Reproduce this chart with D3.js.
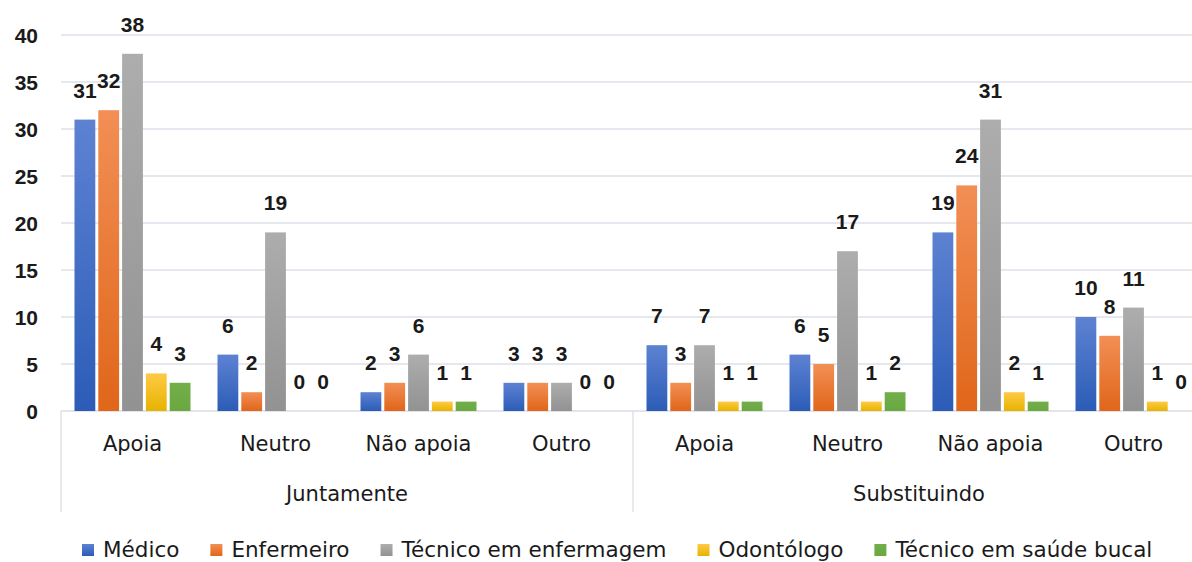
<!DOCTYPE html>
<html>
<head>
<meta charset="utf-8">
<script src="https://cdn.jsdelivr.net/npm/d3@7"></script>
<style>
  body { margin: 0; background: #fff; }
  svg { display: block; }
  .num { font-family: "Liberation Sans", Arial, sans-serif; font-weight: bold; fill: #1a1a1a; }
  .txt { font-family: "DejaVu Sans", sans-serif; fill: #1a1a1a; }
</style>
</head>
<body>
<div id="vis"></div>
<script>
// chart data
let groups = ['Juntamente', 'Substituindo'];
let answers = ['Apoia', 'Neutro', 'Não apoia', 'Outro'];
let seriesNames = ['Médico', 'Enfermeiro', 'Técnico em enfermagem', 'Odontólogo', 'Técnico em saúde bucal'];
let medico      = [31, 6, 2, 3, 7, 6, 19, 10];
let enfermeiro  = [32, 2, 3, 3, 3, 5, 24, 8];
let tecEnf      = [38, 19, 6, 3, 7, 17, 31, 11];
let odontologo  = [4, 0, 1, 0, 1, 1, 2, 1];
let tecBucal    = [3, 0, 1, 0, 1, 2, 1, 0];
let yTicks = [0, 5, 10, 15, 20, 25, 30, 35, 40];

let allSeries = [medico, enfermeiro, tecEnf, odontologo, tecBucal];
let colorsTop = ['#5d82d2', '#f28f55', '#adadad', '#ffca45', '#72ae4a'];
let colorsBot = ['#2c5cb7', '#e0661a', '#929292', '#e6b300', '#6aa841'];

let W = 1192, H = 562;
let margin = { left: 61, top: 35, baseline: 411 };
let catW = 143;

let svg = d3.select('#vis').append('svg').attr('width', W).attr('height', H);

// gradients
let defs = svg.append('defs');
seriesNames.forEach((s, i) => {
    let g = defs.append('linearGradient').attr('id', 'grad' + i)
        .attr('x1', 0).attr('y1', 0).attr('x2', 0).attr('y2', 1);
    g.append('stop').attr('offset', '0%').attr('stop-color', colorsTop[i]);
    g.append('stop').attr('offset', '100%').attr('stop-color', colorsBot[i]);
});

// categories as index list (group x answer)
let cats = [];
groups.forEach((g, gi) => answers.forEach((a, ai) => cats.push({ g: g, a: a, idx: gi * answers.length + ai })));

let xScale = d3.scaleBand()
    .domain(cats.map(c => c.idx))
    .range([margin.left, margin.left + catW * cats.length]);

let xInner = d3.scaleBand()
    .domain(d3.range(seriesNames.length))
    .range([12, catW - 12]);

let yScale = d3.scaleLinear()
    .domain([0, 40])
    .range([margin.baseline, margin.top]);

// gridlines
svg.append('g').selectAll('line').data(yTicks.filter(t => t > 0)).join('line')
    .attr('x1', margin.left).attr('x2', W)
    .attr('y1', d => yScale(d)).attr('y2', d => yScale(d))
    .attr('stroke', '#dde1e8').attr('stroke-width', 1.3);

// y axis labels
let yAxis = d3.axisLeft(yScale).tickValues(yTicks).tickSize(0).tickPadding(0);
let yG = svg.append('g').attr('transform', `translate(38,0)`).call(yAxis);
yG.select('.domain').remove();
yG.selectAll('text').attr('class', 'num').attr('font-size', 21).attr('dy', '0.36em');

// category axis lines
svg.append('line')
    .attr('x1', margin.left).attr('x2', W)
    .attr('y1', margin.baseline).attr('y2', margin.baseline)
    .attr('stroke', '#d9dde4').attr('stroke-width', 1.3);

let groupEdges = groups.map((g, gi) => xScale(gi * answers.length));
groupEdges.push(xScale(cats.length - 1) + catW);
svg.append('g').selectAll('line').data(groupEdges).join('line')
    .attr('x1', d => d).attr('x2', d => d)
    .attr('y1', margin.baseline).attr('y2', 512)
    .attr('stroke', '#d9dde4').attr('stroke-width', 1.3);

// bars
let barsG = svg.append('g');
allSeries.forEach((vals, si) => {
    barsG.append('g').selectAll('rect').data(vals).join('rect')
        .attr('x', (d, i) => xScale(i) + xInner(si) + 1.5)
        .attr('width', xInner.bandwidth() - 3)
        .attr('y', d => yScale(d))
        .attr('height', d => margin.baseline - yScale(d))
        .attr('fill', `url(#grad${si})`);

    barsG.append('g').selectAll('text').data(vals).join('text')
        .attr('class', 'num')
        .attr('font-size', 21)
        .attr('text-anchor', 'middle')
        .attr('x', (d, i) => xScale(i) + xInner(si) + xInner.bandwidth() / 2)
        .attr('y', d => yScale(d) - 22)
        .text(d => d);
});

// category labels
svg.append('g').selectAll('text').data(cats).join('text')
    .attr('class', 'txt').attr('font-size', 21)
    .attr('text-anchor', 'middle')
    .attr('x', d => xScale(d.idx) + catW / 2)
    .attr('y', 451)
    .text(d => d.a);

svg.append('g').selectAll('text').data(groups).join('text')
    .attr('class', 'txt').attr('font-size', 21)
    .attr('text-anchor', 'middle')
    .attr('x', (d, i) => (groupEdges[i] + groupEdges[i + 1]) / 2)
    .attr('y', 501)
    .text(d => d);

// legend
let legend = svg.append('g');
let lx = 82;
seriesNames.forEach((s, i) => {
    legend.append('rect')
        .attr('x', lx).attr('y', 544).attr('width', 12).attr('height', 12)
        .attr('fill', `url(#grad${i})`);
    let t = legend.append('text')
        .attr('class', 'txt').attr('font-size', 21.5)
        .attr('x', lx + 21).attr('y', 557)
        .text(s);
    lx += 21 + t.node().getComputedTextLength() + 31;
});
</script>
</body>
</html>
